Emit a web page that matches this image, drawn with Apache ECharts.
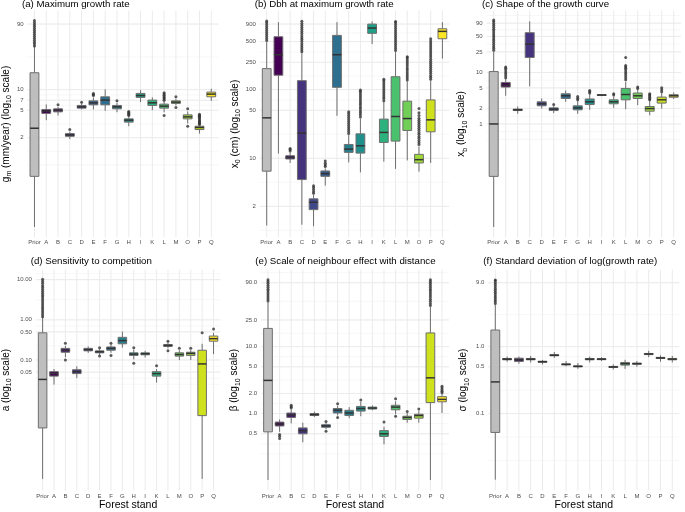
<!DOCTYPE html>
<html><head><meta charset="utf-8">
<script src="https://cdn.jsdelivr.net/npm/echarts@6/dist/echarts.min.js"></script>
<style>html,body{margin:0;padding:0;background:#fff}#c{width:685px;height:512px}</style>
</head><body><div id="c"></div>
<script>
const categories = ['Prior','A','B','C','D','E','F','G','H','I','K','L','M','O','P','Q'];
const boxColors = ['#BEBEBE','#440154','#481B6D','#46337E','#3F4889','#365C8D','#2E6E8E','#277F8E','#21908C','#1FA187','#2DB27D','#4AC16D','#71CF57','#9FDA3A','#CFE11C','#FDE725'];

// each row: [lower whisker, Q1, median, Q3, upper whisker], in category order
const gmBoxes = [
  [0.1,0.546,2.74,17.6,43],[3.59,4.5,4.86,5.14,6.08],[4.2,4.74,5.0,5.25,5.6],[1.91,2.09,2.19,2.29,2.45],
  [5.14,5.37,5.61,5.88,6.29],[5.14,6.0,6.42,6.86,7.7],[4.9,6.0,7.03,7.85,10.1],[4.69,5.25,5.61,5.88,6.42],
  [2.93,3.36,3.59,3.75,4.04],[6.57,7.7,8.2,8.8,9.84],[5.02,5.88,6.42,7.03,7.7],[4.69,5.37,5.74,6.14,6.8],
  [5.88,6.29,6.57,6.86,7.34],[3.21,3.75,4.01,4.29,4.81],[2.29,2.62,2.81,2.93,3.03],[6.86,7.85,8.6,9.2,10.3]
];
const gmOutliers = [
  [0,[43,46,49,52.5,56,60,64,68.5,73,78,83.5,89,95,101]],[2,[6.0]],[3,[2.62]],[4,[6.57]],[5,[8.2,8.5,8.8]],
  [7,[6.86]],[8,[4.2,4.35,4.5,4.65,4.81]],[11,[4.2,7.0,7.3,7.6,7.9,8.3,8.6,9.0]],[12,[5.5,7.85]],
  [13,[2.93,5.25]],[14,[3.1,3.2,3.3,3.4,3.5,3.65,3.8,3.95,4.1,4.25,4.39]]
];
const gmTicks = [2,5,7,10,90];
const gmTickLabels = ['2','5','7','10','90'];

const x0Boxes = [
  [1.05,6.5,38.8,202,492],[11.7,162,322,588,960],[8.55,9.77,10.3,10.9,12.2],[1.08,4.9,23.3,135,338],
  [1.03,1.79,2.29,2.57,2.93],[4.0,5.46,5.98,6.54,7.13],[41.5,108,322,616,961],[8.72,12.2,13.6,15.9,21.8],
  [6.24,11.9,15.2,22.7,37.9],[460,659,787,899,984],[8.93,17.0,23.8,37.2,66],[7.0,17.8,40.6,154,352],
  [9.33,25.4,37.9,67.9,132],[6.39,8.55,9.55,11.4,14.9],[8.55,24.3,36.3,70.8,135],[282,550,704,768,961]
];
const x0Outliers = [
  [0,[520,555,595,635,680,725,775,830,885,945,1000]],[2,[12.8,13.4,13.9]],
  [3,[355,380,405,435,465,500,535,570,610,655,700,750,800,860,920,985]],[4,[3.1,3.3,3.5,3.75,4.0]],
  [5,[7.6,8.0,8.5,9.1]],[7,[23,24.6,26.3,28,30,32,34.3,36.7,39.3,42,45,47.5]],
  [8,[40,43,46,49,52.5,56,60,64,68.5,73,78,83.5,89,95,99]],[10,[69,74,79,84,90,96,103,110,118,126,134,141]],
  [11,[370,395,425,455,485,520,555,595,635,680,725,775,830,890,950,984]],
  [12,[138,148,158,169,181,194,207,222,237,254,272,290,301]],
  [13,[15.9,17,18.2,19.5,20.8,22.3,23.8,25.5,27.3,29.2,31.2,33.4,35.7,38.2,42,46,53]],
  [14,[141,151,161,173,185,198,212,227,242,259,277,297,318,340,364,389,417,446,477,510,550]]
];
const x0Ticks = [2,10,50,100,250,500,900];
const x0TickLabels = ['2','10','50','100','250','500','900'];

const xbBoxes = [
  [0.01,0.096,1.0,10.4,25.5],[3.52,5.2,5.7,6.4,7.6],[1.57,1.82,1.88,1.94,2.18],[5.35,19.5,35.4,59,98],
  [1.99,2.25,2.46,2.69,3.12],[1.62,1.82,1.94,2.05,2.25],[2.69,3.12,3.52,3.85,4.47],[1.57,1.88,2.05,2.25,2.81],
  [1.88,2.38,2.69,3.05,3.85],[3.45,3.58,3.64,3.7,3.8],[2.05,2.46,2.69,2.94,3.41],[1.94,2.94,3.73,4.89,6.6],
  [2.32,3.12,3.52,3.98,4.61],[1.48,1.77,1.99,2.18,2.85],[1.99,2.54,2.94,3.32,3.98],[3.04,3.3,3.52,3.7,4.08]
];
const xbOutliers = [
  [0,[27,29.5,32,35,38,41.5,45,49,53.5,58,63.5,69,75,82,89,97,104]],[1,[7.9,8.6,9.4,10.2,11.1,12.0,12.8]],
  [5,[2.38]],[7,[2.94,3.15,3.41]],[8,[3.98,4.2,4.47]],[10,[3.64,3.85]],
  [11,[7.2,7.9,8.6,9.4,10.2,11.1,12.0,12.8,13.6,19.5]],[12,[4.9,5.21]],[13,[2.94,3.1,3.3,3.5,3.7,3.85]],
  [14,[4.22,4.6,5.05]]
];
const xbTicks = [1,2,5,10,25,50,90];
const xbTickLabels = ['1','2','5','10','25','50','90'];

const aBoxes = [
  [0.00011,0.00204,0.0329,0.475,1.2],[0.0245,0.0397,0.0459,0.0513,0.0596],[0.116,0.156,0.175,0.195,0.226],
  [0.0355,0.0459,0.0513,0.0573,0.0693],[0.151,0.169,0.181,0.195,0.218],[0.135,0.151,0.16,0.169,0.188],
  [0.151,0.175,0.195,0.211,0.243],[0.203,0.253,0.304,0.367,0.513],[0.104,0.13,0.14,0.151,0.181],
  [0.116,0.135,0.143,0.151,0.169],[0.0274,0.0397,0.0459,0.0513,0.0596],[0.195,0.218,0.23,0.243,0.272],
  [0.1,0.125,0.137,0.151,0.175],[0.1,0.13,0.146,0.156,0.175],[0.00011,0.00413,0.08,0.175,0.253],
  [0.14,0.294,0.34,0.395,0.475]
];
const aOutliers = [
  [0,[1.2,1.34,1.5,1.68,1.88,2.1,2.35,2.63,2.94,3.3,3.7,4.1,4.6,5.15,5.75,6.45,7.2,8.1,9.1,10.3]],
  [2,[0.1,0.263]],[5,[0.125,0.203]],[6,[0.13,0.263]],[8,[0.0832,0.203]],[10,[0.0716]],
  [11,[0.169,0.294]],[12,[0.195]],[13,[0.195]],[14,[0.475]],[15,[0.593]]
];
const aTicks = [0.05,0.1,0.5,1,10];
const aTickLabels = ['0.05','0.10','0.50','1.00','10.00'];

const betaBoxes = [
  [0.102,0.534,3.13,18.7,45.9],[0.534,0.653,0.698,0.747,0.818],[0.715,0.874,0.954,1.02,1.17],
  [0.373,0.499,0.557,0.611,0.73],[0.892,0.935,0.967,1.0,1.07],[0.584,0.625,0.653,0.682,0.73],
  [0.935,1.02,1.12,1.19,1.31],[0.854,0.935,1.02,1.12,1.25],[0.913,1.09,1.19,1.28,1.5],
  [1.12,1.17,1.21,1.25,1.33],[0.348,0.456,0.499,0.557,0.638],[0.977,1.14,1.25,1.33,1.53],
  [0.73,0.818,0.874,0.913,1.02],[0.73,0.854,0.935,0.977,1.09],[0.102,1.46,3.42,16,39.2],
  [1.02,1.5,1.63,1.79,1.96]
];
const betaOutliers = [
  [0,[48,51.5,55,59,63,67.5,72,77,82.5,88,94,100]],[1,[0.426,0.46,0.488]],[2,[1.22,1.27,1.33]],
  [5,[0.547,0.765]],[6,[0.874,1.4]],[8,[1.6]],[10,[0.747]],[11,[0.913,1.67]],[12,[1.07]],[13,[1.17]],
  [14,[41,44,47.5,51,55,59,63,67.5,72,77,82.5,88,94,100]],[15,[2.04,2.15,2.27,2.4,2.56]]
];
const betaTicks = [0.5,1,2,5,10,25,90];
const betaTickLabels = ['0.5','1.0','2.0','5.0','10.0','25.0','90.0'];

const sigmaBoxes = [
  [0.0103,0.0523,0.297,1.77,4.22],[0.594,0.635,0.65,0.665,0.71],[0.555,0.6,0.635,0.672,0.71],
  [0.58,0.635,0.65,0.665,0.725],[0.542,0.585,0.594,0.605,0.635],[0.678,0.73,0.743,0.757,0.83],
  [0.507,0.535,0.543,0.552,0.608],[0.465,0.5,0.507,0.515,0.568],[0.58,0.635,0.65,0.665,0.71],
  [0.608,0.638,0.65,0.662,0.695],[0.455,0.488,0.497,0.506,0.542],[0.465,0.53,0.556,0.58,0.635],
  [0.5,0.545,0.556,0.567,0.608],[0.695,0.76,0.776,0.79,0.866],[0.594,0.665,0.678,0.69,0.743],
  [0.58,0.635,0.65,0.665,0.725]
];
const sigmaOutliers = [
  [0,[4.4,4.7,5.0,5.35,5.7,6.1,6.5,6.95,7.4,7.9,8.45,9.0,9.6,9.84]]
];
const sigmaTicks = [0.1,0.5,1,9];
const sigmaTickLabels = ['0.1','0.5','1.0','9.0'];

const FONT = 'Liberation Sans, Arial, sans-serif';
const panels = [
  {title:'(a) Maximum growth rate', yname:'{n|g}{s|m}{n| (mm/year) (log}{s|10}{n| scale)}',
   boxes:gmBoxes, out:gmOutliers, ticks:gmTicks, labels:gmTickLabels, range:[-1.15,2.15],
   left:27.06, width:190.1, top:10.6, height:226.7, tl:22, tt:-1, gap:11, xname:''},
  {title:'(b) Dbh at maximum growth rate', yname:'{n|x}{s|0}{n| (cm) (log}{s|10}{n| scale)}',
   boxes:x0Boxes, out:x0Outliers, ticks:x0Ticks, labels:x0TickLabels, range:[-0.15,3.15],
   left:260.85, width:187.4, top:10.6, height:226.7, tl:254.7, tt:-1, gap:18.5, xname:''},
  {title:'(c) Shape of the growth curve', yname:'{n|x}{s|b}{n| (log}{s|10}{n| scale)}',
   boxes:xbBoxes, out:xbOutliers, ticks:xbTicks, labels:xbTickLabels, range:[-2.2,2.2],
   left:487.7, width:192, top:10.6, height:226.7, tl:482, tt:-1, gap:19, xname:''},
  {title:'(d) Sensitivity to competition', yname:'{n|a (log}{s|10}{n| scale)}',
   boxes:aBoxes, out:aOutliers, ticks:aTicks, labels:aTickLabels, range:[-4.25,1.25],
   left:34.94, width:184.3, top:269.6, height:226.9, tl:30.7, tt:256, gap:22, xname:'Forest stand'},
  {title:'(e) Scale of neighbour effect with distance', yname:'{n|β (log}{s|10}{n| scale)}',
   boxes:betaBoxes, out:betaOutliers, ticks:betaTicks, labels:betaTickLabels, range:[-1.15,2.15],
   left:262.2, width:185.6, top:269.6, height:226.9, tl:255.3, tt:256, gap:20.5, xname:'Forest stand'},
  {title:'(f) Standard deviation of log(growth rate)', yname:'{n|σ (log}{s|10}{n| scale)}',
   boxes:sigmaBoxes, out:sigmaOutliers, ticks:sigmaTicks, labels:sigmaTickLabels, range:[-2.15,1.15],
   left:489.4, width:188.8, top:269.6, height:226.9, tl:483.3, tt:256, gap:19, xname:'Forest stand'}
];

function minorBreaks(b, lim) {
  b = b.slice();
  const bd = b[1] - b[0];
  if (lim[0] < b[0]) b.unshift(b[0] - bd);
  if (lim[1] > b[b.length - 1]) b.push(b[b.length - 1] + bd);
  const out = [];
  for (let k = 0; k < b.length - 1; k++) out.push(b[k], (b[k] + b[k + 1]) / 2);
  out.push(b[b.length - 1]);
  return out.filter(v => v >= lim[0] && v <= lim[1]);
}

function renderGrid(params, api) {
  const cs = params.coordSys;
  const kind = api.value(2);
  const band = cs.width / categories.length;
  if (kind === 2) {
    const p = api.coord([api.value(0), api.value(1)]);
    return {type:'line', shape:{x1:p[0], y1:cs.y, x2:p[0], y2:cs.y + cs.height}, style:{stroke:'#EBEBEB', lineWidth:1}};
  }
  const p = api.coord([0, api.value(1)]);
  return {type:'line', shape:{x1:cs.x - 0.1 * band, y1:p[1], x2:cs.x + cs.width + 0.1 * band, y2:p[1]},
          style:{stroke: kind === 0 ? '#EBEBEB' : '#F2F2F2', lineWidth: kind === 0 ? 1 : 0.6}};
}

function renderBox(params, api) {
  const i = api.value(0);
  const pL = api.coord([i, api.value(1)]);
  const p1 = api.coord([i, api.value(2)]);
  const pM = api.coord([i, api.value(3)]);
  const p3 = api.coord([i, api.value(4)]);
  const pH = api.coord([i, api.value(5)]);
  const bw = api.size([1, 0])[0] * 0.75;
  const x = pM[0];
  const lc = '#6E6E6E';
  return {type:'group', children:[
    {type:'line', shape:{x1:x, y1:pH[1], x2:x, y2:p3[1]}, style:{stroke:lc, lineWidth:1}},
    {type:'line', shape:{x1:x, y1:p1[1], x2:x, y2:pL[1]}, style:{stroke:lc, lineWidth:1}},
    {type:'rect', shape:{x:x - bw / 2, y:p3[1], width:bw, height:Math.max(p1[1] - p3[1], 0.5)},
     style:{fill:boxColors[i], stroke:lc, lineWidth:1}},
    {type:'line', shape:{x1:x - bw / 2, y1:pM[1], x2:x + bw / 2, y2:pM[1]}, style:{stroke:'#333333', lineWidth:1.5}}
  ]};
}

const option = {animation:false, backgroundColor:'#fff', title:[], grid:[], xAxis:[], yAxis:[], series:[]};
panels.forEach((p, k) => {
  const tickLog = p.ticks.map(v => Math.log10(v));
  option.title.push({text:p.title, left:p.tl, top:p.tt, padding:0,
    textStyle:{fontFamily:FONT, fontSize:9.7, fontWeight:'normal', color:'#000'}});
  option.grid.push({left:p.left, top:p.top, width:p.width, height:p.height, containLabel:false});
  option.xAxis.push({type:'category', gridIndex:k, data:categories, boundaryGap:true,
    axisLine:{show:false}, axisTick:{show:false}, splitLine:{show:false},
    axisLabel:{interval:0, fontSize:6, color:'#4D4D4D', margin:2.5, fontFamily:FONT},
    name:p.xname, nameLocation:'middle', nameGap:9,
    nameTextStyle:{fontSize:10.5, color:'#000', fontFamily:FONT}});
  option.yAxis.push({type:'value', gridIndex:k, min:p.range[0], max:p.range[1],
    axisLine:{show:false}, axisTick:{show:false}, splitLine:{show:false},
    axisLabel:{customValues:tickLog, fontSize:6, color:'#4D4D4D', margin:5, fontFamily:FONT,
      formatter:function (v) {
        let best = 0;
        tickLog.forEach((t, j) => { if (Math.abs(t - v) < Math.abs(tickLog[best] - v)) best = j; });
        return p.labels[best];
      }},
    name:p.yname, nameLocation:'middle', nameGap:p.gap,
    nameTextStyle:{fontFamily:FONT, color:'#000',
      rich:{n:{fontSize:10, lineHeight:14, fontFamily:FONT, color:'#000'},
            s:{fontSize:7, lineHeight:8, verticalAlign:'bottom', fontFamily:FONT, color:'#000'}}}});
  const gridData = [];
  minorBreaks(tickLog, p.range).forEach(v => gridData.push([0, v, 1]));
  tickLog.filter(v => v >= p.range[0] && v <= p.range[1]).forEach(v => gridData.push([0, v, 0]));
  categories.forEach((c, i) => gridData.push([i, p.range[0], 2]));
  option.series.push({type:'custom', xAxisIndex:k, yAxisIndex:k, silent:true, z:0,
    renderItem:renderGrid, data:gridData, encode:{x:0, y:1}});
  option.series.push({type:'custom', xAxisIndex:k, yAxisIndex:k, silent:true, z:2,
    renderItem:renderBox, encode:{x:0, y:[1,2,3,4,5]},
    data:p.boxes.map((b, i) => [i].concat(b.map(v => Math.log10(v))))});
  const pts = [];
  p.out.forEach(([i, vals]) => vals.forEach(v => pts.push([i, Math.log10(v)])));
  option.series.push({type:'scatter', xAxisIndex:k, yAxisIndex:k, silent:true, z:3,
    symbol:'circle', symbolSize:3, itemStyle:{color:'#333333'}, data:pts});
});

const chart = echarts.init(document.getElementById('c'), null, {renderer:'canvas'});
chart.setOption(option);
</script>
</body></html>
